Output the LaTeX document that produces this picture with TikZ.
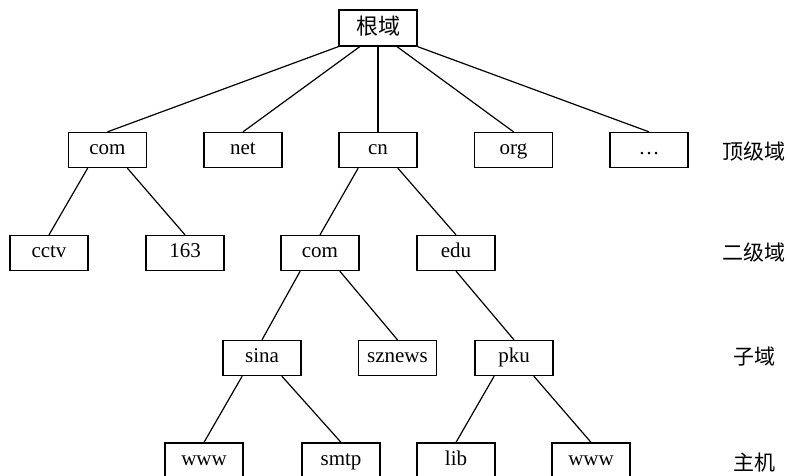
\documentclass[tikz,border=0pt]{standalone}
\usepackage{fontspec}
\setmainfont{Liberation Serif}
\newfontfamily\cjk{Noto Sans CJK SC}
\usetikzlibrary{calc}
\tikzset{
  dom/.style={draw, line width=1.3pt, minimum width=78pt, minimum height=35pt,
    inner sep=0pt, text height=14pt, text depth=4.5pt,
    font=\fontsize{21}{21}\selectfont},
  link/.style={line width=1.2pt},
  lvl/.style={font=\cjk\fontsize{21}{21}\selectfont, inner sep=0pt}
}
\begin{document}
\begin{tikzpicture}[x=1pt,y=-1pt]
\useasboundingbox (0,0) rectangle (788,476);
\clip (0,0) rectangle (788,476);

% root
\node[dom, minimum height=36pt, text height=17pt, text depth=3pt,
  font=\cjk\fontsize{22}{22}\selectfont] (root) at (378,28) {根域};

% top-level domains
\node[dom] (com)  at (107.5,150) {com};
\node[dom] (net)  at (243,150) {net};
\node[dom] (cn)   at (378,150) {cn};
\node[dom] (org)  at (513.5,150) {org};
\node[dom] (more) at (649,150) {\ldots};

% second-level domains
\node[dom] (cctv) at (49,253) {cctv};
\node[dom] (n163) at (185,253) {163};
\node[dom] (ccom) at (320,253) {com};
\node[dom] (edu)  at (456,253) {edu};

% sub-domains
\node[dom] (sina)   at (262,358) {sina};
\node[dom] (sznews) at (397.5,358) {sznews};
\node[dom] (pku)    at (514,358) {pku};

% hosts
\node[dom] (www1) at (204,460.5) {www};
\node[dom] (smtp) at (341,460.5) {smtp};
\node[dom] (lib)  at (456,460.5) {lib};
\node[dom] (www2) at (591,460.5) {www};

% connectors
\draw[link] (root.south west) -- (com.north);
\draw[link] ($(root.south west)!0.27!(root.south east)$) -- (net.north);
\draw[link] (root.south) -- (cn.north);
\draw[link] ($(root.south west)!0.74!(root.south east)$) -- (org.north);
\draw[link] (root.south east) -- (more.north);

\draw[link] ($(com.south west)!0.25!(com.south east)$) -- (cctv.north);
\draw[link] ($(com.south west)!0.75!(com.south east)$) -- (n163.north);
\draw[link] ($(cn.south west)!0.25!(cn.south east)$) -- (ccom.north);
\draw[link] ($(cn.south west)!0.75!(cn.south east)$) -- (edu.north);

\draw[link] ($(ccom.south west)!0.25!(ccom.south east)$) -- (sina.north);
\draw[link] ($(ccom.south west)!0.75!(ccom.south east)$) -- (sznews.north);
\draw[link] (edu.south) -- (pku.north);

\draw[link] ($(sina.south west)!0.25!(sina.south east)$) -- (www1.north);
\draw[link] ($(sina.south west)!0.75!(sina.south east)$) -- (smtp.north);
\draw[link] ($(pku.south west)!0.25!(pku.south east)$) -- (lib.north);
\draw[link] ($(pku.south west)!0.75!(pku.south east)$) -- (www2.north);

% level labels
\node[lvl] (l1) at (754,152) {顶级域};
\node[lvl] (l2) at (754,253) {二级域};
\node[lvl] (l3) at (754,357) {子域};
\node[lvl] (l4) at (754,463) {主机};
\end{tikzpicture}
\end{document}
